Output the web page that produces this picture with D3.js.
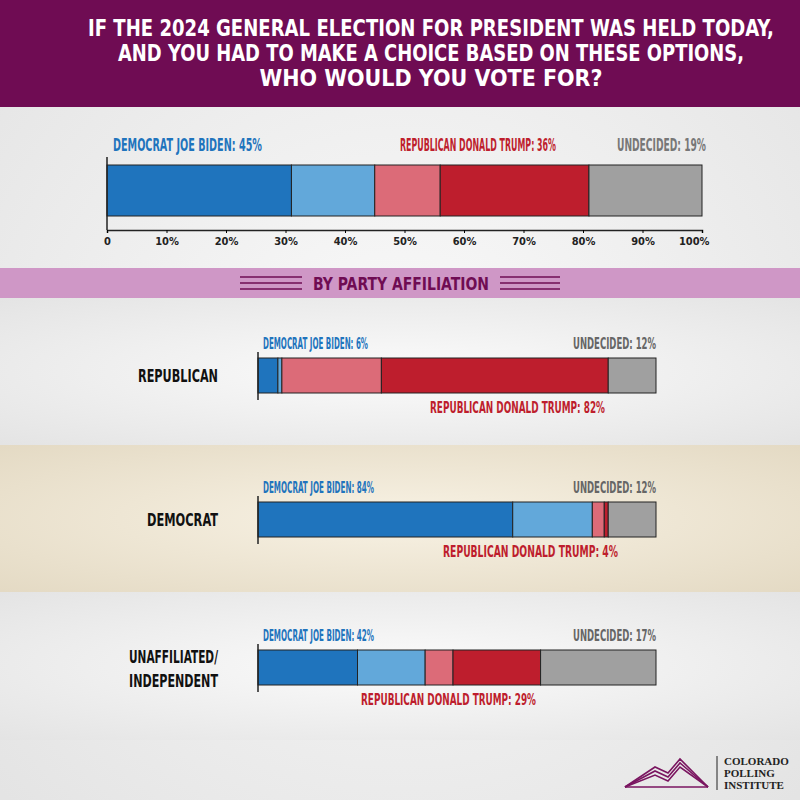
<!DOCTYPE html>
<html><head><meta charset="utf-8">
<script src="https://cdn.jsdelivr.net/npm/d3@7"></script>
<style>body{margin:0}svg{display:block}text{font-family:"DejaVu Sans Condensed","Liberation Sans Narrow",sans-serif;font-weight:bold}</style>
</head><body><svg id="c" width="800" height="800"></svg>
<script>
var segNames = ["Biden firm", "Biden lean", "Trump lean", "Trump firm", "Undecided"];
var segColors = ["#1f74bd", "#62a8da", "#dc6b78", "#be1e2d", "#a0a0a0"];
var overall = [31, 14, 11, 25, 19];
var groups = ["REPUBLICAN", "DEMOCRAT", "UNAFFILIATED/\nINDEPENDENT"];
var groupVals = [[5, 1, 25, 57, 12], [64, 20, 3, 1, 12], [25, 17, 7, 22, 29]];
var groupBiden = [6, 84, 42];
var groupTrump = [82, 4, 29];
var groupUnd = [12, 12, 17];
var ticks = [0, 10, 20, 30, 40, 50, 60, 70, 80, 90, 100];

var svg = d3.select("#c");
var defs = svg.append("defs");
function grad(id, c1, c2) {
  var g = defs.append("radialGradient").attr("id", id).attr("cx", "50%").attr("cy", "50%").attr("r", "70%");
  g.append("stop").attr("offset", "0%").attr("stop-color", c1);
  g.append("stop").attr("offset", "100%").attr("stop-color", c2);
}
// squeeze text to the width it has in the picture
function fit(t, w) { return t.attr("textLength", w).attr("lengthAdjust", "spacingAndGlyphs"); }
grad("gGray", "#fbfbfb", "#e4e4e4");
grad("gBeige", "#f8f2e4", "#e4dac4");

svg.append("rect").attr("width", 800).attr("height", 800).attr("fill", "url(#gGray)");
svg.append("rect").attr("y", 445).attr("width", 800).attr("height", 147).attr("fill", "url(#gBeige)");
svg.append("rect").attr("y", 298).attr("width", 800).attr("height", 147).attr("fill", "url(#gGray)");
svg.append("rect").attr("y", 592).attr("width", 800).attr("height", 148).attr("fill", "url(#gGray)");
svg.append("rect").attr("width", 800).attr("height", 107).attr("fill", "#6f0c53");
var titleW = [686, 626, 343];
["IF THE 2024 GENERAL ELECTION FOR PRESIDENT WAS HELD TODAY,", "AND YOU HAD TO MAKE A CHOICE BASED ON THESE OPTIONS,", "WHO WOULD YOU VOTE FOR?"].forEach(function (t, i) {
  fit(svg.append("text").attr("x", 431).attr("y", 36 + i * 25).attr("text-anchor", "middle").attr("fill", "#fff").attr("font-size", 23).text(t), titleW[i]);
});

// overall bar
var x0 = d3.scaleLinear().domain([0, 100]).range([107, 702]);
function stack(v) { var s = 0; return v.map(function (d, i) { var o = {a: s, b: s + d, i: i}; s += d; return o; }); }
svg.append("g").selectAll("rect").data(stack(overall)).join("rect")
  .attr("x", function (d) { return x0(d.a); }).attr("width", function (d) { return x0(d.b) - x0(d.a); })
  .attr("y", 165).attr("height", 51).attr("fill", function (d) { return segColors[d.i]; })
  .attr("stroke", "#222").attr("stroke-width", 1);
var ax = svg.append("g").attr("transform", "translate(0,230)")
  .call(d3.axisBottom(x0).tickValues(ticks).tickFormat(function (d) { return d === 0 ? "0" : d + "%"; }).tickSize(3).tickPadding(4));
ax.select(".domain").attr("stroke", "#222").attr("stroke-width", 1.5);
ax.selectAll("text").attr("font-size", 11).attr("fill", "#222").style("font-family", "'DejaVu Sans Condensed',sans-serif").attr("font-weight", "normal");
ax.selectAll(".tick").filter(function (d) { return d === 100; }).select("text").attr("text-anchor", "end").attr("dx", 7);
svg.append("line").attr("x1", 107).attr("x2", 107).attr("y1", 157).attr("y2", 230).attr("stroke", "#222").attr("stroke-width", 1.5);
fit(svg.append("text").attr("x", 113).attr("y", 151).attr("fill", segColors[0]).attr("font-size", 17).text("DEMOCRAT JOE BIDEN: 45%"), 149);
fit(svg.append("text").attr("x", 400).attr("y", 151).attr("fill", segColors[3]).attr("font-size", 17).text("REPUBLICAN DONALD TRUMP: 36%"), 156);
fit(svg.append("text").attr("x", 617).attr("y", 151).attr("fill", "#777").attr("font-size", 17).text("UNDECIDED: 19%"), 89);

// band
svg.append("rect").attr("y", 268).attr("width", 800).attr("height", 30).attr("fill", "#cf97c6");
fit(svg.append("text").attr("x", 313).attr("y", 290).attr("fill", "#6f0c53").attr("font-size", 18).attr("font-weight", "normal").text("BY PARTY AFFILIATION"), 176);
[[240, 302], [500, 560]].forEach(function (r) {
  [277, 283, 289].forEach(function (y) {
    svg.append("line").attr("x1", r[0]).attr("x2", r[1]).attr("y1", y).attr("y2", y).attr("stroke", "#6f0c53").attr("stroke-width", 1.5);
  });
});

// party bars
var x1 = d3.scaleLinear().domain([0, 100]).range([258, 656]);
var barY = [358, 502, 650];
var nameW = [[80], [71], [89, 89]];
var bidenW = [105, 111, 111];
var trumpX = [430, 443, 361];
groups.forEach(function (g, k) {
  var y = barY[k];
  svg.append("g").selectAll("rect").data(stack(groupVals[k])).join("rect")
    .attr("x", function (d) { return x1(d.a); }).attr("width", function (d) { return x1(d.b) - x1(d.a); })
    .attr("y", y).attr("height", 35).attr("fill", function (d) { return segColors[d.i]; })
    .attr("stroke", "#222").attr("stroke-width", 1);
  svg.append("line").attr("x1", 258).attr("x2", 258).attr("y1", y - 6).attr("y2", y + 42).attr("stroke", "#222").attr("stroke-width", 1.5);
  var lines = g.split("\n");
  lines.forEach(function (t, j) {
    fit(svg.append("text").attr("x", 218 - nameW[k][j]).attr("y", y + 24 - (lines.length - 1) * 11 + j * 24)
      .attr("fill", "#111").attr("font-size", 18).text(t), nameW[k][j]);
  });
  fit(svg.append("text").attr("x", 263).attr("y", y - 9).attr("fill", segColors[0]).attr("font-size", 15).text("DEMOCRAT JOE BIDEN: " + groupBiden[k] + "%"), bidenW[k]);
  fit(svg.append("text").attr("x", x1(100) - 83).attr("y", y - 9).attr("fill", "#666").attr("font-size", 15).text("UNDECIDED: " + groupUnd[k] + "%"), 83);
  fit(svg.append("text").attr("x", trumpX[k]).attr("y", y + 55).attr("fill", segColors[3]).attr("font-size", 15).text("REPUBLICAN DONALD TRUMP: " + groupTrump[k] + "%"), 175);
});

// logo
var lg = svg.append("g").attr("fill", "none").attr("stroke", "#7a1560").attr("stroke-width", 1.6);
[0, 4, 8].forEach(function (o) {
  lg.append("path").attr("d", "M625,787 L655," + (767 + o) + " L668," + (773 + o) + " L680," + (759 + o) + " L708,787");
});
lg.append("line").attr("x1", 625).attr("x2", 708).attr("y1", 787).attr("y2", 787);
svg.append("line").attr("x1", 717).attr("x2", 717).attr("y1", 756).attr("y2", 790).attr("stroke", "#222");
["COLORADO", "POLLING", "INSTITUTE"].forEach(function (t, i) {
  svg.append("text").attr("x", 724).attr("y", 765 + i * 12).attr("fill", "#222").attr("font-size", 11)
    .style("font-family", "'Liberation Serif',serif").attr("font-weight", "normal").text(t);
});
</script></body></html>
